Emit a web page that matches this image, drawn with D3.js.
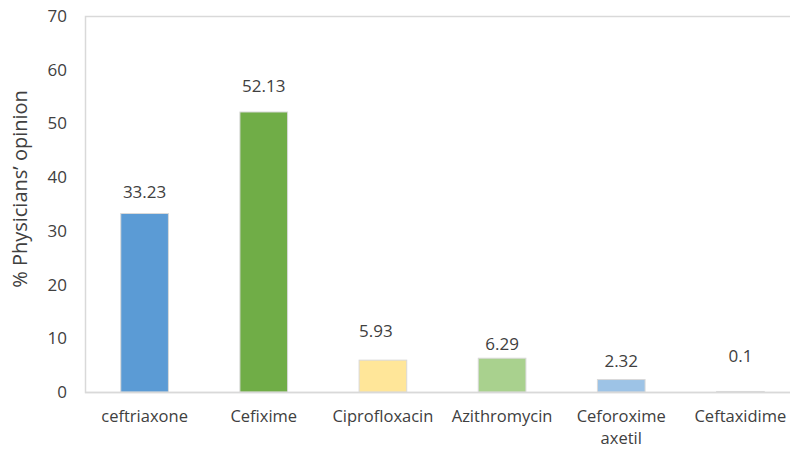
<!DOCTYPE html>
<html>
<head>
<meta charset="utf-8">
<script src="https://cdn.jsdelivr.net/npm/d3@7"></script>
<style>
  html, body { margin: 0; padding: 0; background: #fff; }
  svg { display: block; }
  text { font-family: "Open Sans", sans-serif; fill: #404040; }
</style>
</head>
<body>
<svg id="chart" width="790" height="450"></svg>
<script>
// Antibiotics named by physicians, share of responses (%)
const categories = ["ceftriaxone", "Cefixime", "Ciprofloxacin", "Azithromycin", "Ceforoxime axetil", "Ceftaxidime"];
const values = [33.23, 52.13, 5.93, 6.29, 2.32, 0.1];
const barColors = ["#5B9BD5", "#70AD47", "#FFE699", "#A9D18E", "#9DC3E6", "#D9D9D9"];
const yTicks = [0, 10, 20, 30, 40, 50, 60, 70];
const yTitle = "% Physicians\u2019 opinion";

// label nudges (dx, dy above bar top) for the value captions
const labelNudge = [[0, 16], [0, 20], [-7, 23], [0, 8], [0, 13], [0, 29]];

const svg = d3.select("#chart");
const plot = { left: 85, right: 800, top: 16, bottom: 392 };

const x = d3.scaleBand()
  .domain(categories)
  .range([plot.left, plot.right])
  .paddingInner(0.6)
  .paddingOuter(0.3);

const y = d3.scaleLinear()
  .domain([0, 70])
  .range([plot.bottom, plot.top]);

// plot frame
svg.append("rect")
  .attr("x", plot.left + 0.5)
  .attr("y", plot.top + 0.5)
  .attr("width", plot.right - plot.left)
  .attr("height", plot.bottom - plot.top)
  .attr("fill", "none")
  .attr("stroke", "#D9D9D9")
  .attr("stroke-width", 1.5);

// y axis labels
const yAxis = d3.axisLeft(y).tickValues(yTicks).tickSize(0).tickPadding(0);
const gy = svg.append("g")
  .attr("transform", `translate(${plot.left - 18},0)`)
  .call(yAxis);
gy.select(".domain").remove();
gy.selectAll("text")
  .attr("font-size", 17)
  .attr("fill", "#595959")
  .attr("font-family", "Open Sans");

// bars
svg.append("g").selectAll("rect")
  .data(values)
  .join("rect")
  .attr("x", (d, i) => x(categories[i]))
  .attr("y", d => y(d))
  .attr("width", x.bandwidth())
  .attr("height", d => y(0) - y(d))
  .attr("fill", (d, i) => barColors[i])
  .attr("stroke", "#D9D9D9")
  .attr("stroke-width", 1);

// value captions
svg.append("g").selectAll("text")
  .data(values)
  .join("text")
  .attr("x", (d, i) => x(categories[i]) + x.bandwidth() / 2 + labelNudge[i][0])
  .attr("y", (d, i) => y(d) - labelNudge[i][1])
  .attr("text-anchor", "middle")
  .attr("font-size", 17)
  .text(d => d);

// baseline
svg.append("line")
  .attr("x1", plot.left).attr("x2", plot.right)
  .attr("y1", y(0) + 0.5).attr("y2", y(0) + 0.5)
  .attr("stroke", "#D9D9D9")
  .attr("stroke-width", 1.5);

// category labels (long names wrapped onto two lines)
const xl = svg.append("g");
categories.forEach((c, i) => {
  const words = c === "Ceforoxime axetil" ? ["Ceforoxime", "axetil"] : [c];
  const t = xl.append("text")
    .attr("x", x(c) + x.bandwidth() / 2)
    .attr("y", 422)
    .attr("text-anchor", "middle")
    .attr("font-size", 16.5)
    .attr("fill", "#595959");
  words.forEach((w, k) => {
    t.append("tspan")
      .attr("x", x(c) + x.bandwidth() / 2)
      .attr("dy", k === 0 ? 0 : 22)
      .text(w);
  });
});

// y axis title
svg.append("text")
  .attr("transform", `translate(27,189) rotate(-90)`)
  .attr("text-anchor", "middle")
  .attr("font-size", 20)
  .attr("fill", "#404040")
  .text(yTitle);
</script>
</body>
</html>
